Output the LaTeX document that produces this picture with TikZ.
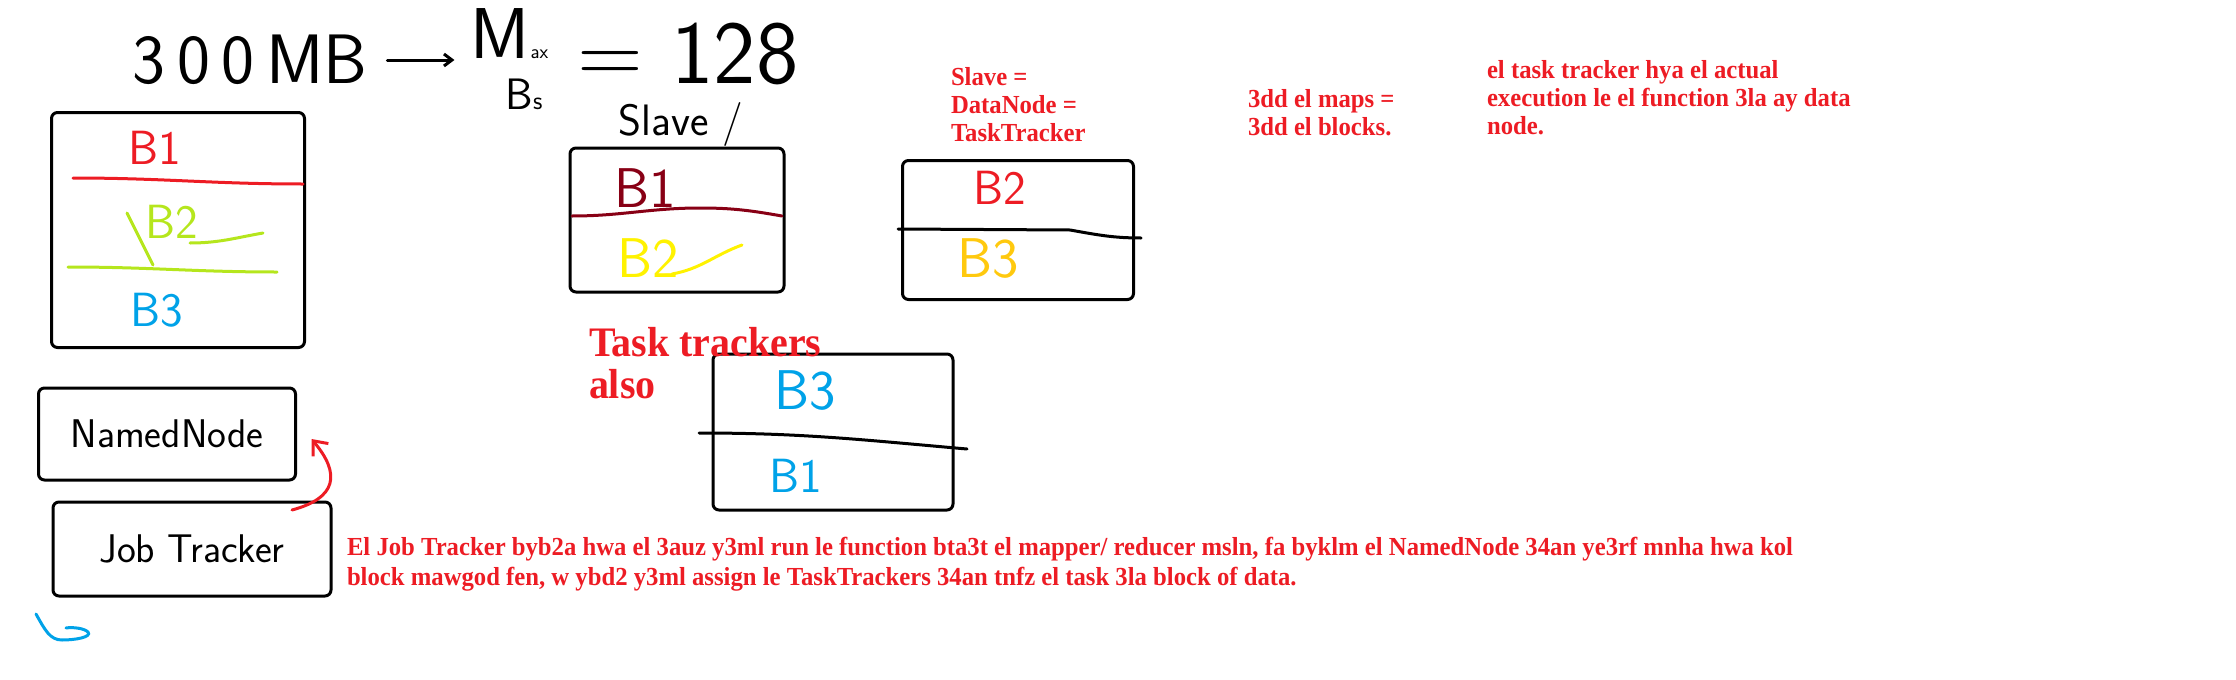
\documentclass[tikz,border=0pt]{standalone}
\usepackage{fontspec}
\newfontfamily\notefont[FakeStretch=0.95]{Liberation Serif}
\usepackage{tikz}
\usetikzlibrary{positioning, arrows.meta}

\definecolor{paintred}{RGB}{237,28,36}
\definecolor{paintlime}{RGB}{181,230,29}
\definecolor{paintblue}{RGB}{0,162,232}
\definecolor{paintmaroon}{RGB}{136,0,21}
\definecolor{paintyellow}{RGB}{255,242,0}
\definecolor{paintgold}{RGB}{255,201,14}

\newcommand{\hand}[1]{\fontsize{#1}{#1}\selectfont\sffamily}
\newcommand{\notesize}[2]{\fontsize{#1}{#2}\selectfont\notefont\bfseries}

\begin{document}
\begin{tikzpicture}[x=1pt, y=1pt,
    every node/.style={outer sep=0pt},
    sketch/.style={draw=black, line width=3pt, rounded corners=6pt},
    stroke/.style={line width=3pt, line cap=round},
    blocklabel/.style={font=\hand{48}, inner sep=0pt},
    remark/.style={font=\notesize{26}{28}, text=paintred, align=left, anchor=north west, inner sep=0pt}]

\useasboundingbox (0,0) rectangle (2236,-680);

% the file and its size
\node[font=\hand{70}, inner sep=0pt] (size) at (250,-60) {3\,0\,0\,MB};
\node[font=\hand{72}, inner sep=0pt] (maxm) at (500,-34) {M};
\node[font=\hand{20}, inner sep=0pt, anchor=south west] (maxax) at ([xshift=1pt]maxm.south east) {ax};
\node[font=\hand{44}, inner sep=0pt] (maxbs) at (524,-94) {B{\hand{26}s}};
\node[font=\hand{90}, inner sep=0pt] (count) at (688,-54) {= 128};
\draw[stroke, -{Straight Barb[length=8pt, width=12pt]}] ([xshift=20pt]size.east) -- ([xshift=-16pt]size.east -| maxm.west);

% the three blocks
\node[sketch, minimum width=253pt, minimum height=235pt] (blocks) at (178,-230) {};
\node[blocklabel, text=paintred] (ba) at (155,-148) {B1};
\node[blocklabel, text=paintlime] (bb) at (172,-222) {B2};
\node[blocklabel, text=paintblue] (bc) at (157,-310) {B3};
\draw[stroke, paintred] (73,-178) to[out=0, in=180] (303,-184);
\draw[stroke, paintlime] (68,-267) to[out=0, in=180] (277,-272);
\draw[stroke, paintlime] (127,-213) -- (153,-265);
\draw[stroke, paintlime] (190,-243) to[out=0, in=190] (263,-233);

% slaves
\node[font=\hand{44}, inner sep=0pt] (slavehand) at (681,-124) {Slave /};

\node[sketch, minimum width=214pt, minimum height=144pt] (slavea) at (677,-220) {};
\node[blocklabel, font=\hand{56}, text=paintmaroon] (sab) at (645,-188) {B1};
\node[blocklabel, font=\hand{56}, text=paintyellow] (sac) at (648,-258) {B2};
\draw[stroke, paintmaroon] (572,-216) to[out=0, in=180] (700,-208) to[out=0, in=170] (782,-216);
\draw[stroke, paintyellow] (672,-274) to[out=10, in=200] (742,-245);

\node[sketch, minimum width=231pt, minimum height=139pt] (slaveb) at (1018,-230) {};
\node[blocklabel, text=paintred] (sbb) at (1000,-188) {B2};
\node[blocklabel, font=\hand{56}, text=paintgold] (sbc) at (988,-259) {B3};
\draw[stroke] (898,-229) -- (1070,-230) to[out=-10, in=180] (1141,-238);

\node[sketch, minimum width=240pt, minimum height=156pt] (slavec) at (833,-432) {};
\node[blocklabel, font=\hand{56}, text=paintblue] (scc) at (805,-391) {B3};
\node[blocklabel, text=paintblue] (sca) at (796,-476) {B1};
\draw[stroke] (699,-433) to[out=0, in=175] (967,-449);

% master side
\node[sketch, font=\hand{40}, minimum width=257pt, minimum height=92pt] (named) at (167,-434) {NamedNode};
\node[sketch, font=\hand{40}, minimum width=278pt, minimum height=94pt] (jobtr) at (192,-549) {Job Tracker};
\draw[stroke, paintred, -{Straight Barb[length=12pt, width=20pt]}] ([xshift=-39pt, yshift=-8pt]jobtr.north east) to[out=15, in=-50, looseness=1.6] ([xshift=16pt, yshift=-5pt]named.east);

\draw[stroke, paintblue] (36,-614) .. controls (45,-630) and (50,-640) .. (62,-640)
    .. controls (76,-640) and (92,-637) .. (88,-632) .. controls (84,-628) and (72,-627) .. (66,-628);

% notes
\node[remark] (slavenote) at (951,-67) {Slave =\\DataNode =\\TaskTracker};
\node[remark] (mapsnote) at (1248,-89) {3dd el maps =\\3dd el blocks.};
\node[remark] (ttnote) at (1487,-60) {el task tracker hya el actual\\execution le el function 3la ay data\\node.};
\node[remark, font=\notesize{42}{42}] (alsonote) at (589,-327) {Task trackers\\also};
\node[remark, font=\notesize{26}{30}] (jtnote) at (347,-537) {El Job Tracker byb2a hwa el 3auz y3ml run le function bta3t el mapper/ reducer msln, fa byklm el NamedNode 34an ye3rf mnha hwa kol\\block mawgod fen, w ybd2 y3ml assign le TaskTrackers 34an tnfz el task 3la block of data.};

\end{tikzpicture}
\end{document}
